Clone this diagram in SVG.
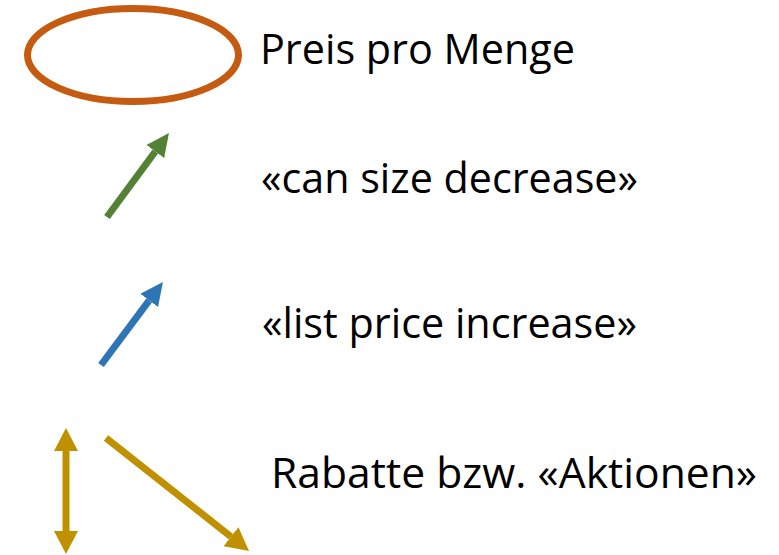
<svg xmlns="http://www.w3.org/2000/svg" width="779" height="555" viewBox="0 0 779 555">
  <style>
    .lbl { font-family: "Open Sans", "Liberation Sans", sans-serif; font-size: 42px; fill: #000; }
    .arr { fill: none; stroke-width: 7; stroke-linecap: butt; }
  </style>
  <defs>
    <marker id="hGreen" markerUnits="userSpaceOnUse" viewBox="0 -12 23 24" refX="0" refY="0" markerWidth="23" markerHeight="24" orient="auto-start-reverse"><path d="M0,-11 L23,0 L0,11 z" fill="#548235"/></marker>
    <marker id="hBlue" markerUnits="userSpaceOnUse" viewBox="0 -12 23 24" refX="0" refY="0" markerWidth="23" markerHeight="24" orient="auto-start-reverse"><path d="M0,-11 L23,0 L0,11 z" fill="#2E75B6"/></marker>
    <marker id="hGold" markerUnits="userSpaceOnUse" viewBox="0 -12 23 24" refX="0" refY="0" markerWidth="23" markerHeight="24" orient="auto-start-reverse"><path d="M0,-12 L23,0 L0,12 z" fill="#BF9000"/></marker>
  </defs>
  <g id="node-ellipse">
    <ellipse cx="133" cy="55" rx="105.5" ry="46.5" fill="none" stroke="#C55A11" stroke-width="7"/>
  </g>
  <g id="connectors">
    <line class="arr" x1="107" y1="217" x2="155.3" y2="151.5" stroke="#548235" marker-end="url(#hGreen)"/>
    <line class="arr" x1="101" y1="365" x2="149.2" y2="300.4" stroke="#2E75B6" marker-end="url(#hBlue)"/>
    <line class="arr" x1="66" y1="451" x2="66" y2="531" stroke="#BF9000" marker-start="url(#hGold)" marker-end="url(#hGold)"/>
    <line class="arr" x1="106" y1="438" x2="231" y2="536.7" stroke="#BF9000" marker-end="url(#hGold)"/>
  </g>
  <g id="label-preis">
    <text class="lbl" x="260" y="64" textLength="315" lengthAdjust="spacingAndGlyphs">Preis pro Menge</text>
  </g>
  <g id="label-size">
    <text class="lbl" x="261" y="193" textLength="377" lengthAdjust="spacingAndGlyphs">«can size decrease»</text>
  </g>
  <g id="label-list">
    <text class="lbl" x="262" y="338" textLength="375" lengthAdjust="spacingAndGlyphs">«list price increase»</text>
  </g>
  <g id="label-rabatte">
    <text class="lbl" x="271" y="488" textLength="486" lengthAdjust="spacingAndGlyphs">Rabatte bzw. «Aktionen»</text>
  </g>
</svg>
